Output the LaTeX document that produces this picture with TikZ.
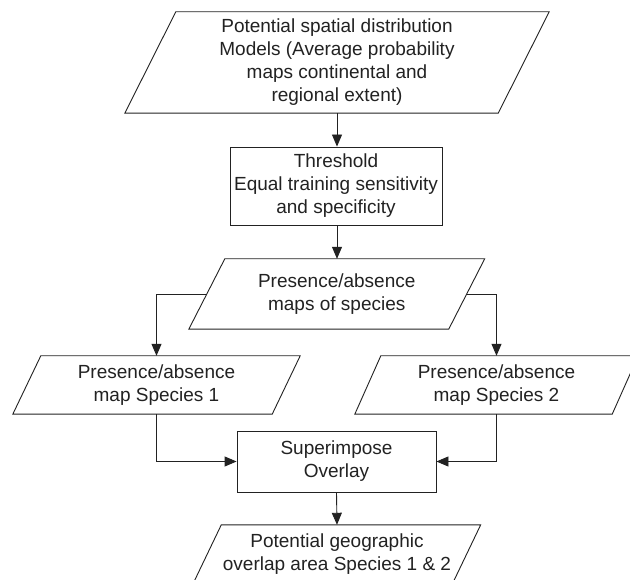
\documentclass[tikz,border=0pt]{standalone}
\usepackage{fontspec}
\setmainfont{Liberation Sans}
\usetikzlibrary{arrows.meta}
\definecolor{ink}{HTML}{222222}
\tikzset{
  lineink/.style={draw=ink, line width=0.9pt},
  arr/.style={lineink, -{Triangle[length=12pt,width=10pt]}},
  txt/.style={inner sep=0pt, align=center, text=ink, font=\fontsize{19}{23}\selectfont},
  boxnode/.style={txt, lineink},
}
\newcommand\parashape[2]{%
  \draw[lineink] ([xshift=#2]#1.north west) -- ([xshift=#2]#1.north east)
    -- ([xshift=-#2]#1.south east) -- ([xshift=-#2]#1.south west) -- cycle;}
\begin{document}
\begin{tikzpicture}[x=1pt,y=-1pt]
\useasboundingbox[fill=white] (0,0) rectangle (630,580);

\node[txt, minimum width=373pt, minimum height=101pt] (top) at (337,62.5)
  {Potential spatial distribution\\Models (Average probability\\maps continental and\\regional extent)};
\parashape{top}{25.5pt}

\node[boxnode, minimum width=212pt, minimum height=78pt] (thr) at (336,186)
  {Threshold\\Equal training sensitivity\\and specificity};

\node[txt, minimum width=259.5pt, minimum height=70pt] (mid) at (336.75,294)
  {Presence/absence\\maps of species};
\parashape{mid}{18pt}

\node[txt, minimum width=259pt, minimum height=58pt] (s1) at (156.5,385)
  {Presence/absence\\map Species 1};
\parashape{s1}{14pt}

\node[txt, minimum width=257pt, minimum height=58pt] (s2) at (496.5,385)
  {Presence/absence\\map Species 2};
\parashape{s2}{13pt}

\node[boxnode, minimum width=199pt, minimum height=61pt] (sup) at (336.5,461.5)
  {Superimpose\\Overlay};

\node[txt, minimum width=259pt, minimum height=58pt] (bot) at (337,554)
  {Potential geographic\\overlap area Species 1 \& 2};
\parashape{bot}{14pt}

\draw[arr] (top.south) -- (thr.north -| top.south);
\draw[arr] (thr.south -| top.south) -- (mid.north -| top.south);
\draw[arr] (mid.west) -| (s1.north);
\draw[arr] (mid.east) -| (s2.north);
\draw[arr] (s1.south) |- (sup.west);
\draw[arr] (s2.south) |- (sup.east);
\draw[arr] (sup.south) -- (bot.north);
\end{tikzpicture}
\end{document}
